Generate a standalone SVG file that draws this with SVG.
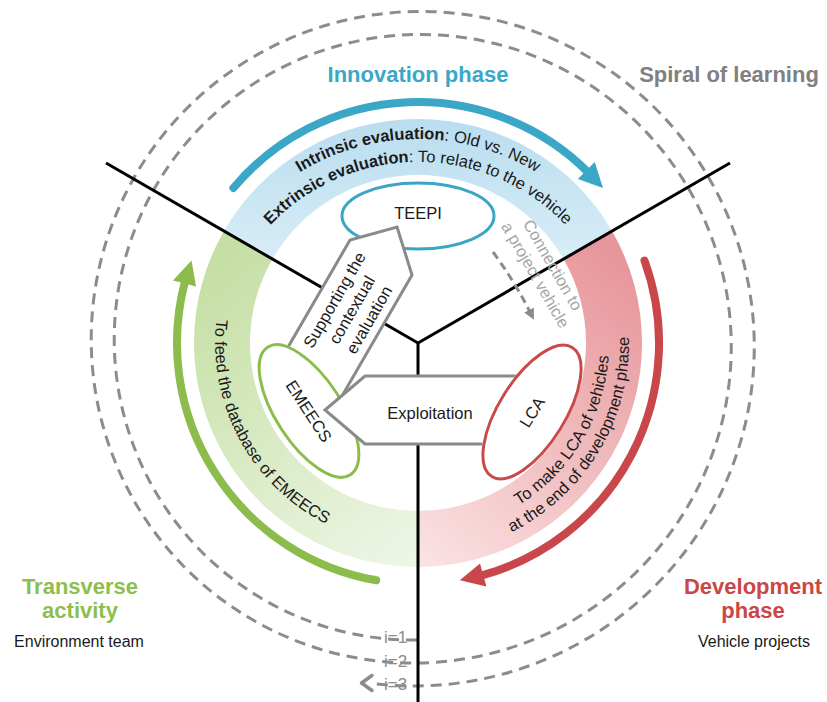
<svg xmlns="http://www.w3.org/2000/svg" width="827" height="702" viewBox="0 0 827 702">
<defs>
<linearGradient id="gB" gradientUnits="userSpaceOnUse" x1="418" y1="119" x2="418" y2="260"><stop offset="0" stop-color="#b9ddef"/><stop offset="1" stop-color="#d8edf7"/></linearGradient>
<linearGradient id="gG" gradientUnits="userSpaceOnUse" x1="200" y1="280" x2="418" y2="560"><stop offset="0" stop-color="#c6dfa5"/><stop offset="1" stop-color="#eef6e6"/></linearGradient>
<linearGradient id="gR" gradientUnits="userSpaceOnUse" x1="640" y1="280" x2="418" y2="560"><stop offset="0" stop-color="#e7979b"/><stop offset="1" stop-color="#fae2e3"/></linearGradient>
<marker id="ah" viewBox="0 0 10 10" refX="2" refY="5" markerWidth="3.6" markerHeight="3.6" orient="auto" markerUnits="strokeWidth"><path d="M0,0 L10,5 L0,10 Z" fill="#8c8c8c"/></marker>
<path id="pB1" d="M204.7,288.4 A227,227 0 0 1 631.3,288.4"/>
<path id="pB2" d="M226.3,296.2 A204,204 0 0 1 609.7,296.2"/>
<path id="pG" d="M253.8,223.7 A203,203 0 0 0 426.5,545.8"/>
<path id="pR1" d="M401.4,533.3 A191,191 0 0 0 578.2,239"/>
<path id="pR2" d="M399.6,553.2 A211,211 0 0 0 595,228.1"/>
<clipPath id="cpS"><path clip-rule="evenodd" d="M0,0 H827 V702 H0 Z M266.79,346 A77.5,34.5 57 1 1 351.21,476 A77.5,34.5 57 1 1 266.79,346 Z"/></clipPath>
<clipPath id="cpE"><path clip-rule="evenodd" d="M0,0 H827 V702 H0 Z M573.07,346.28 A77.5,34.5 -58 1 1 490.93,477.72 A77.5,34.5 -58 1 1 573.07,346.28 Z"/></clipPath>
</defs>
<style>
text{font-family:"Liberation Sans",Arial,Helvetica,sans-serif}
.title{font-size:22px;font-weight:bold;text-anchor:middle}
.sub{font-size:16px;fill:#1a1a1a;text-anchor:middle}
.lbl{font-size:16.5px;fill:#1a1a1a;text-anchor:middle}
.arc{font-size:16.5px;fill:#1a1a1a}
.b{font-weight:bold}
.band{stroke:none}
.cyc{fill:none;stroke-width:8;stroke-linecap:round}
.axis{stroke:#000;stroke-width:3;fill:none}
.spiral{fill:none;stroke:#8c8c8c;stroke-width:3;stroke-dasharray:11 7}
.node{fill:#fff;stroke-width:3}
.block{fill:#fff;stroke:#8a8a8a;stroke-width:3;stroke-linejoin:miter}
.ilbl{font-size:17px;fill:#8c8c8c}
.conn{font-size:16.5px;text-anchor:middle;fill:#a6a6a6}
</style>
<rect width="827" height="702" fill="#fff"/>

<g id="bands">
<path class="band" fill="url(#gB)" d="M224,231 A224,224 0 0 1 612,231 L563.5,259 A168,168 0 0 0 272.5,259 Z"/>
<path class="band" fill="url(#gG)" d="M418,567 A224,224 0 0 1 224,231 L272.5,259 A168,168 0 0 0 418,511 Z"/>
<path class="band" fill="url(#gR)" d="M612,231 A224,224 0 0 1 418,567 L418,511 A168,168 0 0 0 563.5,259 Z"/>
<text class="arc"><textPath href="#pB1" startOffset="50%" text-anchor="middle"><tspan class="b">Intrinsic evaluation</tspan>: Old vs. New</textPath></text>
<text class="arc"><textPath href="#pB2" startOffset="50%" text-anchor="middle"><tspan class="b">Extrinsic evaluation</tspan>: To relate to the vehicle</textPath></text>
<text class="arc"><textPath href="#pG" startOffset="50%" text-anchor="middle">To feed the database of EMEECS</textPath></text>
<text class="arc"><textPath href="#pR1" startOffset="50%" text-anchor="middle">To make LCA of vehicles</textPath></text>
<text class="arc"><textPath href="#pR2" startOffset="50%" text-anchor="middle">at the end of development phase</textPath></text>
</g>

<g id="spiral-of-learning">
<path class="spiral" d="M417,640 A298,298 0 0 1 267.54,601.87 A299.9,299.9 0 0 1 156.47,493.42 A301.8,301.8 0 0 1 114.25,343 A303.7,303.7 0 0 1 153.15,190.67 A305.6,305.6 0 0 1 263.71,77.5 A307.5,307.5 0 0 1 417,34.5 A309.5,309.5 0 0 1 572.21,74.17 A311.4,311.4 0 0 1 687.48,186.83 A313.3,313.3 0 0 1 731.25,343 A315.2,315.2 0 0 1 690.81,501.08 A317.1,317.1 0 0 1 576.04,618.46 A319,319 0 0 1 417,663 A321,321 0 0 1 256.04,621.79 A322.9,322.9 0 0 1 136.55,504.92 A324.8,324.8 0 0 1 91.25,343 A326.7,326.7 0 0 1 133.23,179.17 A328.6,328.6 0 0 1 252.21,57.58 A330.5,330.5 0 0 1 417,11.5 A332.5,332.5 0 0 1 583.71,54.25 A334.4,334.4 0 0 1 707.4,175.33 A336.3,336.3 0 0 1 754.25,343 A338.2,338.2 0 0 1 710.72,512.58 A340.1,340.1 0 0 1 587.54,638.38 A342,342 0 0 1 417,686 A343.3,343.3 0 0 1 375.1,683.9"/>
<path d="M372,675.5 L361.5,683 L372,690.5" fill="none" stroke="#8c8c8c" stroke-width="3.5" stroke-linecap="round" stroke-linejoin="round"/>
<text class="ilbl" x="384" y="643">i=1</text>
<text class="ilbl" x="384" y="667">i=2</text>
<text class="ilbl" x="384" y="690">i=3</text>
<text class="title" x="729" y="82" fill="#808080">Spiral of learning</text>
</g>

<g id="cycle-arrows">
<path class="cyc" stroke="#3aa7c7" d="M233.4,188 A241,241 0 0 1 588.4,172.6"/>
<polygon fill="#3aa7c7" points="603,188 594.7,161.9 577.9,179.1"/>
<path class="cyc" stroke="#8cbc4c" d="M376.2,580.3 A241,241 0 0 1 185.2,280.6"/>
<polygon fill="#8cbc4c" points="191.5,260.6 172.9,280.5 196.1,286.5"/>
<path class="cyc" stroke="#c9474a" d="M644.5,260.6 A241,241 0 0 1 480.4,575.8"/>
<polygon fill="#c9474a" points="459.8,580.3 486.4,586.6 480,563.4"/>
</g>

<g id="phase-labels">
<text class="title" x="418" y="82" fill="#3aa7c7">Innovation phase</text>
<text class="title" x="80" y="594" fill="#8dbe4e">Transverse</text>
<text class="title" x="80" y="618" fill="#8dbe4e">activity</text>
<text class="sub" x="79" y="647">Environment team</text>
<text class="title" x="753" y="594" fill="#cc4646">Development</text>
<text class="title" x="753" y="618" fill="#cc4646">phase</text>
<text class="sub" x="754" y="647">Vehicle projects</text>
</g>

<g id="axes">
<line class="axis" x1="418" y1="343" x2="106" y2="163"/>
<line class="axis" x1="418" y1="343" x2="730" y2="163"/>
<line class="axis" x1="418" y1="343" x2="418" y2="702"/>
</g>

<g id="node-teepi">
<ellipse class="node" stroke="#3aa6c6" cx="418" cy="216" rx="76" ry="33"/>
<text class="lbl" x="418" y="218.5">TEEPI</text>
</g>
<g id="node-emeecs">
<ellipse class="node" stroke="#8cbc4c" cx="309" cy="411" rx="76" ry="33" transform="rotate(57 309 411)"/>
<text class="lbl" transform="translate(309 411) rotate(57)" x="0" y="6">EMEECS</text>
</g>
<g id="node-lca">
<ellipse class="node" stroke="#c94a4a" cx="532" cy="412" rx="76" ry="33" transform="rotate(-58 532 412)"/>
<text class="lbl" transform="translate(532 412) rotate(-58)" x="0" y="6">LCA</text>
</g>

<g id="connectors">
<g clip-path="url(#cpS)">
<polygon class="block" points="397,227 412,275 334.5,409 272.5,374 350,240"/>
</g>
<g transform="translate(352 310) rotate(-60)">
<text class="lbl" x="0" y="-14.5">Supporting the</text>
<text class="lbl" x="0" y="5.5">contextual</text>
<text class="lbl" x="0" y="25.5">evaluation</text>
</g>
<g clip-path="url(#cpE)">
<polygon class="block" points="325,410 365,376 530,376 530,444 365,444"/>
</g>
<text class="lbl" x="430" y="419">Exploitation</text>
<path d="M493,252 Q515,282 530,312" fill="none" stroke="#8c8c8c" stroke-width="3" stroke-dasharray="8 5" marker-end="url(#ah)"/>
<g transform="translate(544 270) rotate(60)">
<text class="conn" x="0" y="-4.5">Connection to</text>
<text class="conn" x="0" y="15.5">a project vehicle</text>
</g>
</g>
</svg>
